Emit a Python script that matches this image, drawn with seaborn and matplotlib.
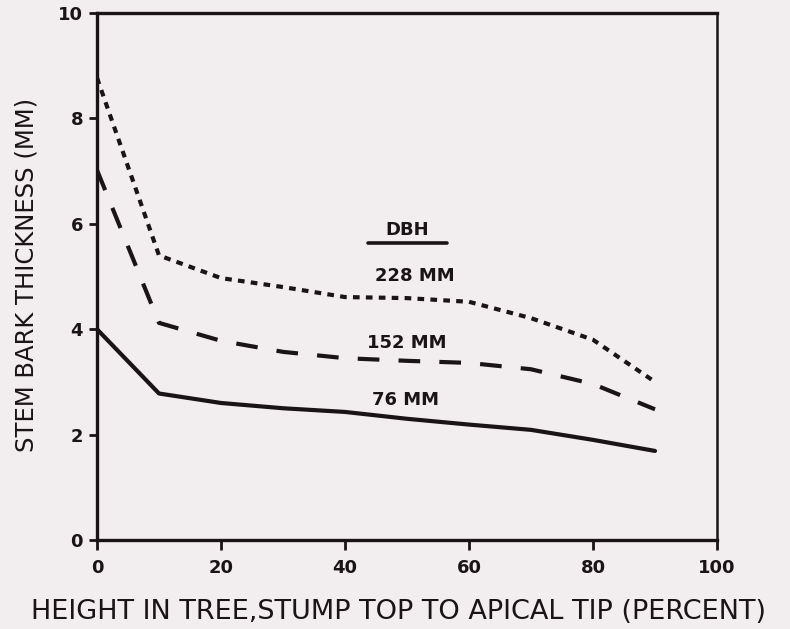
import matplotlib
matplotlib.use("Agg")
import matplotlib.pyplot as plt
import seaborn as sns
import pandas as pd

# Height in tree (percent, stump top to apical tip)
height_pct = [0, 10, 20, 30, 40, 50, 60, 70, 80, 90]

# Stem bark thickness (mm) for three tree diameters (DBH)
bark_76 = [4.00, 2.78, 2.60, 2.50, 2.43, 2.30, 2.19, 2.09, 1.90, 1.69]
bark_152 = [7.02, 4.12, 3.78, 3.57, 3.45, 3.40, 3.36, 3.24, 2.96, 2.48]
bark_228 = [8.77, 5.40, 4.97, 4.80, 4.61, 4.59, 4.52, 4.21, 3.80, 3.00]

series_names = ["76 MM", "152 MM", "228 MM"]
label_x = [49.7, 50.0, 51.3]
label_y = [2.66, 3.74, 5.01]

x_ticks = [0, 20, 40, 60, 80, 100]
y_ticks = [0, 2, 4, 6, 8, 10]

df = pd.DataFrame({
    "height": height_pct * 3,
    "bark": bark_76 + bark_152 + bark_228,
    "dbh": [series_names[0]] * len(height_pct)
    + [series_names[1]] * len(height_pct)
    + [series_names[2]] * len(height_pct),
})

ink = "#1a1416"
bg = "#f2eeef"
sns.set_theme(style="white")
plt.rcParams["font.family"] = ["DejaVu Sans"]

fig = plt.figure(figsize=(7.9, 6.29), dpi=100, facecolor=bg)
ax = fig.add_axes([0.1228, 0.1415, 0.7848, 0.8378])
ax.set_facecolor(bg)

sns.lineplot(
    data=df, x="height", y="bark", style="dbh",
    style_order=series_names,
    dashes={series_names[0]: "", series_names[1]: (5.2, 4.6), series_names[2]: (1.6, 1.5)},
    color=ink, linewidth=3.0, legend=False, ax=ax,
)

ax.set_xlim(0, 100)
ax.set_ylim(0, 10)
ax.set_xticks(x_ticks)
ax.set_yticks(y_ticks)
ax.set_xticklabels([str(t) for t in x_ticks], fontsize=13, fontweight="bold", color=ink)
ax.set_yticklabels([str(t) for t in y_ticks], fontsize=13, fontweight="bold", color=ink)
ax.tick_params(axis="x", direction="out", length=7, width=2, color=ink, bottom=True, pad=7)
ax.tick_params(axis="y", direction="out", length=6, width=2, color=ink, left=True, pad=4)

for side in ["left", "bottom", "top", "right"]:
    ax.spines[side].set_visible(True)
    ax.spines[side].set_color(ink)
    ax.spines[side].set_linewidth(2.4)
ax.spines["right"].set_linewidth(1.8)

ax.set_xlabel("")
ax.set_ylabel("")
fig.text(0.034, 0.563, "STEM BARK THICKNESS (MM)", fontsize=17.5, color=ink,
         rotation=90, ha="center", va="center")
fig.text(0.504, 0.027, "HEIGHT IN TREE,STUMP TOP TO APICAL TIP (PERCENT)",
         fontsize=19.5, color=ink, ha="center", va="center")

# Curve labels and the DBH heading with its underline
ax.text(50.0, 5.88, "DBH", fontsize=13, fontweight="bold", color=ink,
        ha="center", va="center")
ax.plot([43.7, 56.4], [5.63, 5.63], color=ink, linewidth=2.6)
for name, lx, ly in zip(series_names, label_x, label_y):
    ax.text(lx, ly, name, fontsize=13, fontweight="bold", color=ink,
            ha="center", va="center")

fig.savefig("out.png", dpi=100, facecolor=bg)
